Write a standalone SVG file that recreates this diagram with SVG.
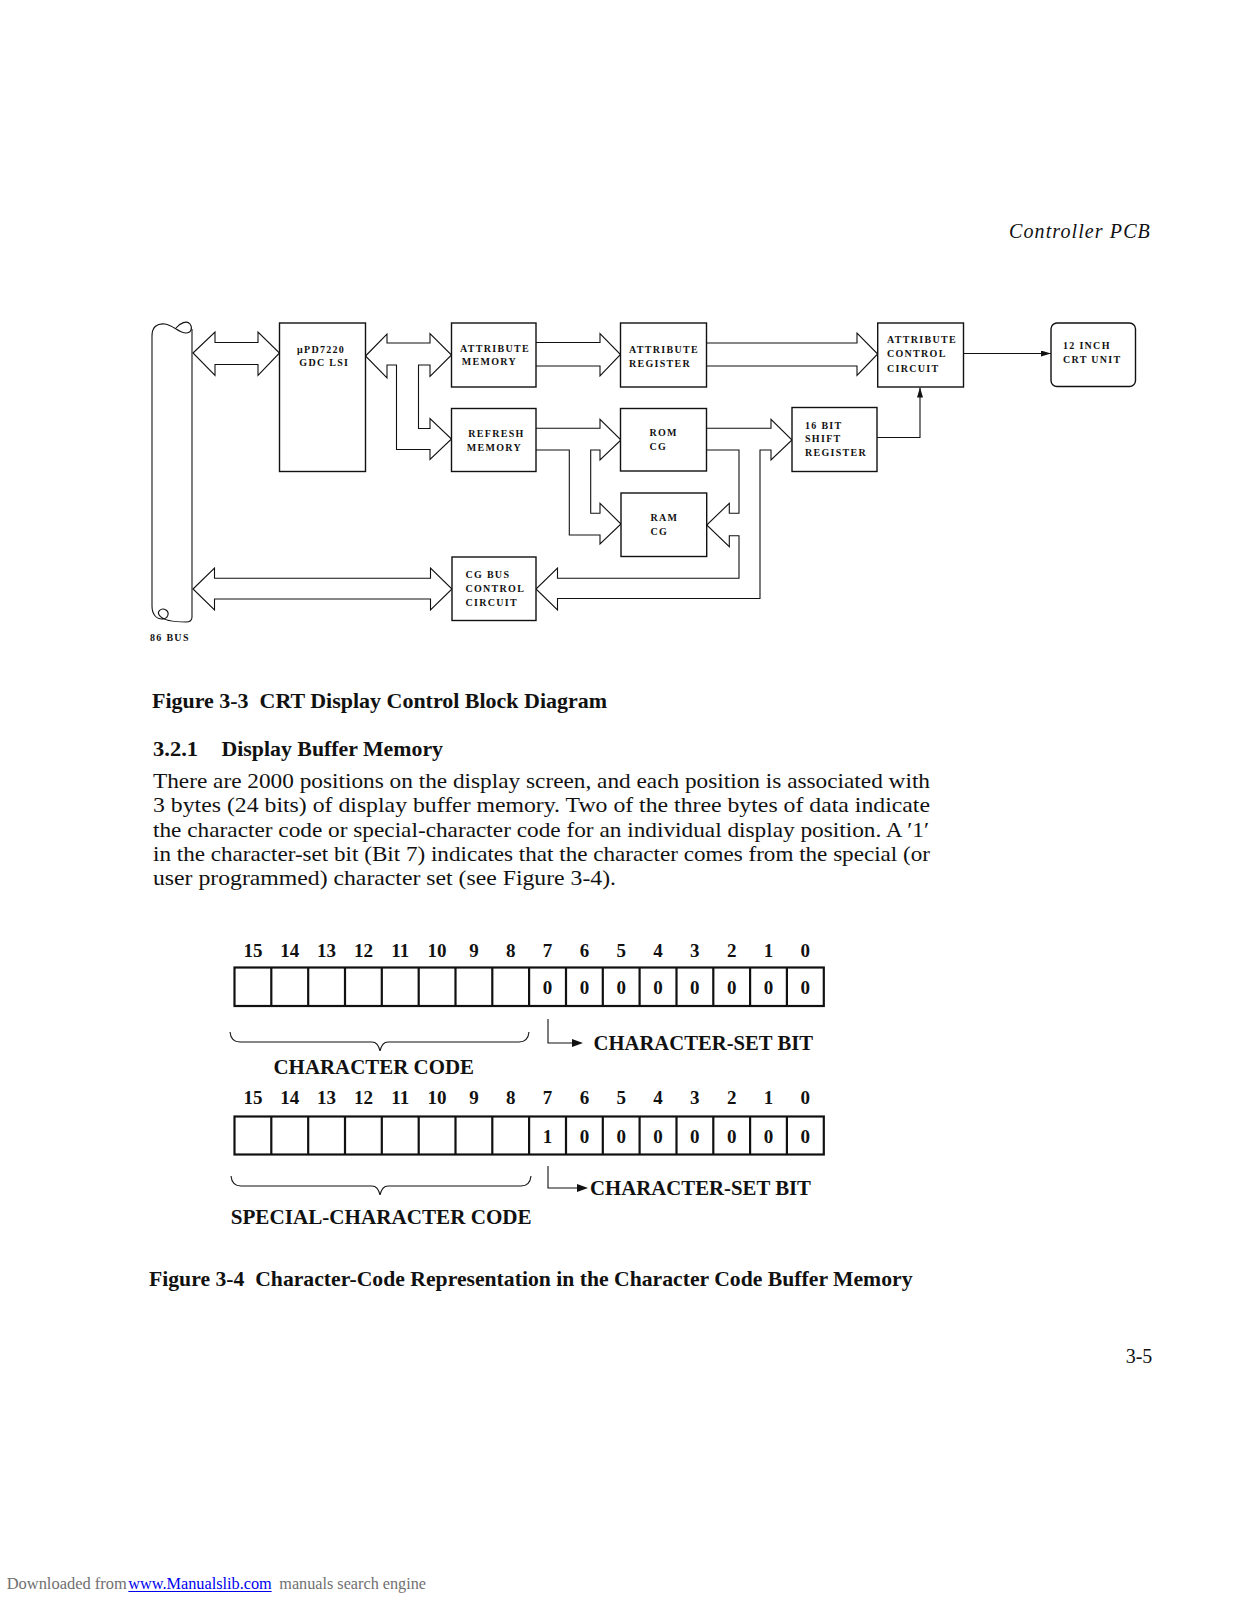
<svg xmlns="http://www.w3.org/2000/svg" width="1237" height="1600" viewBox="0 0 1237 1600">
<style>
.box{fill:#fff;stroke:#111;stroke-width:1.4}
.fat{fill:none;stroke:#111;stroke-width:1.1;stroke-linejoin:miter}
.ln{fill:none;stroke:#111;stroke-width:1.1}
.lbl{font-family:"Liberation Serif",serif;font-weight:bold;font-size:10px;letter-spacing:1.3px;fill:#111}
.hd{font-family:"Liberation Serif",serif;font-weight:bold;fill:#111}
.body{font-family:"Liberation Serif",serif;font-size:21px;fill:#111}
.cell{fill:none;stroke:#111;stroke-width:2.2}
.bit{font-family:"Liberation Serif",serif;font-weight:bold;font-size:19px;fill:#111;text-anchor:middle}
.foot{font-family:"Liberation Serif",serif;font-size:16px;fill:#707070}
</style>
<defs>
<marker id="ah" viewBox="0 0 10 6" refX="10" refY="3" markerWidth="10" markerHeight="6" markerUnits="userSpaceOnUse" orient="auto"><path d="M0,0 L10,3 L0,6 z" fill="#111"/></marker>
</defs>
<rect x="0" y="0" width="1237" height="1600" fill="#fff"/>

<text x="1009" y="238" font-family="Liberation Serif, serif" font-style="italic" font-size="20" letter-spacing="1.1" fill="#111">Controller PCB</text>

<!-- connectors -->
<g id="connectors">
<path class="fat" d="M193,353 L215,332 L215,342.5 L258,342.5 L258,332 L279.5,353 L258,375.5 L258,364.5 L215,364.5 L215,375.5 Z"/>
<path class="fat" d="M365.5,356 L387,334 L387,343 L430,343 L430,333.5 L451.5,355 L430,376.5 L430,365 L418.5,365 L418.5,428.5 L430,428.5 L430,418.5 L451.5,439 L430,459.5 L430,449.5 L396.5,449.5 L396.5,365 L387,365 L387,378 Z"/>
<path class="fat" d="M536,342.5 L600,342.5 L600,333.5 L620.5,354.5 L600,376 L600,366 L536,366"/>
<path class="fat" d="M706.5,343 L857,343 L857,333 L877.7,354 L857,375.5 L857,366 L706.5,366"/>
<path class="fat" d="M536,428.3 L600,428.3 L600,419.3 L621,440 L600,460 L600,450 L590.7,450 L590.7,513.3 L600,513.3 L600,503.3 L621,524 L600,544 L600,535 L569.3,535 L569.3,450 L536,450"/>
<path class="fat" d="M706.5,428.3 L771,428.3 L771,419.3 L792,440 L771,460 L771,450 L760,450 L760,598.5 L557.5,598.5 L557.5,610 L536,589 L557.5,568 L557.5,578.3 L739,578.3 L739,535.7 L729.3,535.7 L729.3,546.7 L706.7,525 L729.3,503.3 L729.3,513.3 L739,513.3 L739,450 L706.5,450"/>
<path class="fat" d="M193,589 L214.5,568 L214.5,578.3 L430.5,578.3 L430.5,568 L452,589 L430.5,610 L430.5,599 L214.5,599 L214.5,610 Z"/>
<line class="ln" x1="963.5" y1="353.5" x2="1051" y2="353.5" marker-end="url(#ah)"/>
<polyline class="ln" points="877,437.5 920,437.5 920,387.5" marker-end="url(#ah)"/>
</g>

<!-- 86 bus -->
<g id="bus86">
<path class="ln" d="M152,336 V606"/>
<path class="ln" d="M192,329 V617"/>
<path class="ln" d="M152,336 C152,327 157,323 165,324 C173,325 179,333 186,333 C191,333 193,328 190,324 C187,320 180,323 176,328"/>
<path class="ln" d="M152,606 C152,614 156,619 162,619 C168,619 170,613 166,610 C161,607 156,612 160,616 C164,621 176,622 186,622 C190,622 192,620 192,617"/>
<text class="lbl" x="150" y="641">86 BUS</text>
</g>

<g id="gdc"><rect class="box" x="279.5" y="323" width="86" height="148.5"/>
<text class="lbl" x="297" y="352.7">μPD7220</text><text class="lbl" x="299.3" y="366">GDC LSI</text></g>

<g id="attr-memory"><rect class="box" x="451.5" y="323" width="84.5" height="64"/>
<text class="lbl" x="460" y="351.7">ATTRIBUTE</text><text class="lbl" x="461.7" y="365">MEMORY</text></g>

<g id="attr-register"><rect class="box" x="620.5" y="323" width="86" height="64"/>
<text class="lbl" x="629" y="352.5">ATTRIBUTE</text><text class="lbl" x="629" y="366.5">REGISTER</text></g>

<g id="attr-control"><rect class="box" x="877.7" y="323" width="85.8" height="64"/>
<text class="lbl" x="887" y="343">ATTRIBUTE</text><text class="lbl" x="887" y="357">CONTROL</text><text class="lbl" x="887" y="371.5">CIRCUIT</text></g>

<g id="crt-unit"><rect class="box" x="1051" y="323" width="84.5" height="63.5" rx="6"/>
<text class="lbl" x="1063" y="348.5">12 INCH</text><text class="lbl" x="1063" y="363">CRT UNIT</text></g>

<g id="refresh-memory"><rect class="box" x="451.5" y="408.5" width="84.5" height="63"/>
<text class="lbl" x="468.3" y="437">REFRESH</text><text class="lbl" x="466.7" y="451">MEMORY</text></g>

<g id="rom-cg"><rect class="box" x="620.5" y="408.5" width="86" height="62.5"/>
<text class="lbl" x="649.5" y="436">ROM</text><text class="lbl" x="649.5" y="450">CG</text></g>

<g id="shift-register"><rect class="box" x="792" y="407.5" width="85" height="64"/>
<text class="lbl" x="805" y="428.5">16 BIT</text><text class="lbl" x="805" y="442">SHIFT</text><text class="lbl" x="805" y="456">REGISTER</text></g>

<g id="ram-cg"><rect class="box" x="621" y="493" width="85.7" height="63.5"/>
<text class="lbl" x="650.5" y="520.5">RAM</text><text class="lbl" x="650.5" y="535">CG</text></g>

<g id="cg-bus-control"><rect class="box" x="452" y="557" width="84" height="63.5"/>
<text class="lbl" x="465.5" y="578">CG BUS</text><text class="lbl" x="465.5" y="592">CONTROL</text><text class="lbl" x="465.5" y="606">CIRCUIT</text></g>

<!-- captions and body text -->
<text class="hd" x="152" y="708" font-size="21" xml:space="preserve" textLength="455" lengthAdjust="spacingAndGlyphs">Figure 3-3  CRT Display Control Block Diagram</text>
<text class="hd" x="153" y="756" font-size="21" textLength="45" lengthAdjust="spacingAndGlyphs">3.2.1</text>
<text class="hd" x="221.5" y="756" font-size="21" textLength="221.5" lengthAdjust="spacingAndGlyphs">Display Buffer Memory</text>
<text class="body" x="153" y="788" textLength="777" lengthAdjust="spacingAndGlyphs">There are 2000 positions on the display screen, and each position is associated with</text>
<text class="body" x="153" y="812" textLength="777" lengthAdjust="spacingAndGlyphs">3 bytes (24 bits) of display buffer memory. Two of the three bytes of data indicate</text>
<text class="body" x="153" y="837" textLength="776" lengthAdjust="spacingAndGlyphs">the character code or special-character code for an individual display position. A ′1′</text>
<text class="body" x="153" y="861" textLength="777" lengthAdjust="spacingAndGlyphs">in the character-set bit (Bit 7) indicates that the character comes from the special (or</text>
<text class="body" x="153" y="885" textLength="463" lengthAdjust="spacingAndGlyphs">user programmed) character set (see Figure 3-4).</text>

<!-- Figure 3-4 row 1 -->
<g id="row1">
<g class="bit">
<text x="252.9" y="957">15</text><text x="289.7" y="957">14</text><text x="326.6" y="957">13</text><text x="363.4" y="957">12</text><text x="400.2" y="957">11</text><text x="437.0" y="957">10</text><text x="473.9" y="957">9</text><text x="510.7" y="957">8</text><text x="547.5" y="957">7</text><text x="584.4" y="957">6</text><text x="621.2" y="957">5</text><text x="658.0" y="957">4</text><text x="694.8" y="957">3</text><text x="731.7" y="957">2</text><text x="768.5" y="957">1</text><text x="805.3" y="957">0</text>
<text x="547.5" y="994">0</text><text x="584.4" y="994">0</text><text x="621.2" y="994">0</text><text x="658.0" y="994">0</text><text x="694.8" y="994">0</text><text x="731.7" y="994">0</text><text x="768.5" y="994">0</text><text x="805.3" y="994">0</text>
</g>
<rect class="cell" x="234.5" y="967.5" width="589.3" height="38.5"/>
<path class="cell" d="M271.3,967.5V1006M308.2,967.5V1006M345,967.5V1006M381.8,967.5V1006M418.7,967.5V1006M455.5,967.5V1006M492.3,967.5V1006M529.1,967.5V1006M566,967.5V1006M602.8,967.5V1006M639.6,967.5V1006M676.5,967.5V1006M713.3,967.5V1006M750.1,967.5V1006M786.9,967.5V1006"/>
<path class="ln" stroke-width="1.5" d="M230,1032 Q231,1042 240,1042 L372,1042 Q378,1042 380,1051 Q382,1042 388,1042 L519,1042 Q528,1042 529,1032"/>
<path class="ln" stroke-width="1.5" d="M548,1019 V1043 H573"/>
<path d="M572,1039 L583,1043 L572,1047 Z" fill="#111"/>
<text class="hd" x="593.5" y="1050" font-size="20" textLength="219.5" lengthAdjust="spacingAndGlyphs">CHARACTER-SET BIT</text>
<text class="hd" x="273.5" y="1074" font-size="20" textLength="200.5" lengthAdjust="spacingAndGlyphs">CHARACTER CODE</text>
</g>

<!-- Figure 3-4 row 2 -->
<g id="row2">
<g class="bit">
<text x="252.9" y="1104">15</text><text x="289.7" y="1104">14</text><text x="326.6" y="1104">13</text><text x="363.4" y="1104">12</text><text x="400.2" y="1104">11</text><text x="437.0" y="1104">10</text><text x="473.9" y="1104">9</text><text x="510.7" y="1104">8</text><text x="547.5" y="1104">7</text><text x="584.4" y="1104">6</text><text x="621.2" y="1104">5</text><text x="658.0" y="1104">4</text><text x="694.8" y="1104">3</text><text x="731.7" y="1104">2</text><text x="768.5" y="1104">1</text><text x="805.3" y="1104">0</text>
<text x="547.5" y="1143">1</text><text x="584.4" y="1143">0</text><text x="621.2" y="1143">0</text><text x="658.0" y="1143">0</text><text x="694.8" y="1143">0</text><text x="731.7" y="1143">0</text><text x="768.5" y="1143">0</text><text x="805.3" y="1143">0</text>
</g>
<rect class="cell" x="234.5" y="1116.5" width="589.3" height="38"/>
<path class="cell" d="M271.3,1116.5V1154.5M308.2,1116.5V1154.5M345,1116.5V1154.5M381.8,1116.5V1154.5M418.7,1116.5V1154.5M455.5,1116.5V1154.5M492.3,1116.5V1154.5M529.1,1116.5V1154.5M566,1116.5V1154.5M602.8,1116.5V1154.5M639.6,1116.5V1154.5M676.5,1116.5V1154.5M713.3,1116.5V1154.5M750.1,1116.5V1154.5M786.9,1116.5V1154.5"/>
<path class="ln" stroke-width="1.5" d="M231,1176 Q232,1186 241,1186 L372,1186 Q378,1186 380,1195 Q382,1186 388,1186 L521,1186 Q530,1186 531,1176"/>
<path class="ln" stroke-width="1.5" d="M548,1166 V1188 H578"/>
<path d="M577,1184 L588,1188 L577,1192 Z" fill="#111"/>
<text class="hd" x="590" y="1195" font-size="20" textLength="221" lengthAdjust="spacingAndGlyphs">CHARACTER-SET BIT</text>
<text class="hd" x="230.7" y="1224" font-size="20" textLength="301" lengthAdjust="spacingAndGlyphs">SPECIAL-CHARACTER CODE</text>
</g>

<text class="hd" x="149" y="1286" font-size="21" xml:space="preserve" textLength="763.5" lengthAdjust="spacingAndGlyphs">Figure 3-4  Character-Code Representation in the Character Code Buffer Memory</text>

<text x="1125.7" y="1363" font-family="Liberation Serif, serif" font-size="20" fill="#111">3-5</text>

<text class="foot" x="6.7" y="1589" textLength="120" lengthAdjust="spacingAndGlyphs">Downloaded from</text>
<text class="foot" x="128.3" y="1589" fill="#0000ee" style="fill:#0000ee" textLength="143.4" lengthAdjust="spacingAndGlyphs">www.Manualslib.com</text>
<line x1="128.3" y1="1591.5" x2="271.7" y2="1591.5" stroke="#0000ee" stroke-width="1"/>
<text class="foot" x="279.3" y="1589" textLength="146.7" lengthAdjust="spacingAndGlyphs">manuals search engine</text>
</svg>
